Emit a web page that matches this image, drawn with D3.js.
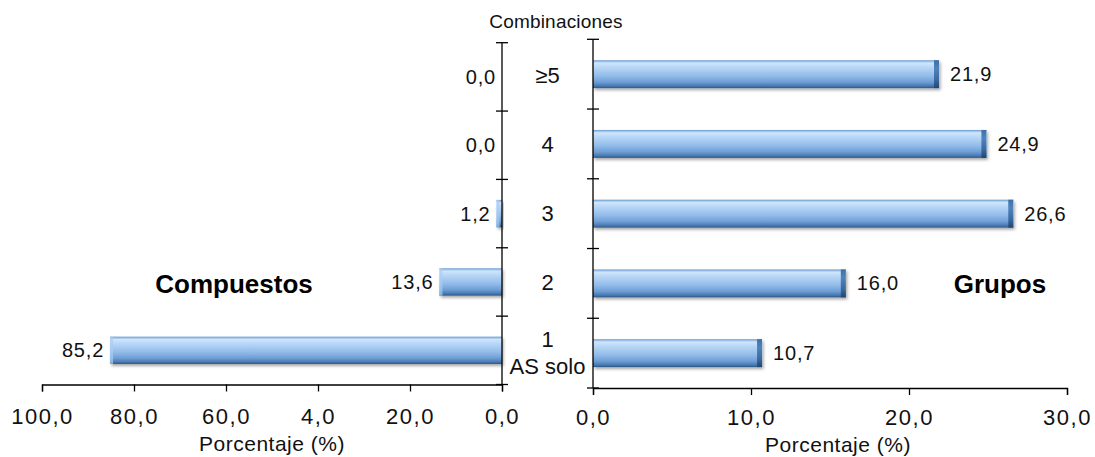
<!DOCTYPE html>
<html><head><meta charset="utf-8">
<script src="https://cdn.jsdelivr.net/npm/d3@7"></script>
<style>
html,body{margin:0;padding:0;background:#fff;}
svg{display:block;font-family:"Liberation Sans",Arial,sans-serif;}
</style></head>
<body>
<svg id="c" width="1095" height="457"></svg>
<script>
const categories = ["≥5", "4", "3", "2", "1"];
const compuestos = [0.0, 0.0, 1.2, 13.6, 85.2];
const grupos = [21.9, 24.9, 26.6, 16.0, 10.7];
const leftTicks = [100, 80, 60, 40, 20, 0];
const leftTickLabels = ["100,0", "80,0", "60,0", "4,0", "20,0", "0,0"];
const rightTicks = [0, 10, 20, 30];
const rightTickLabels = ["0,0", "10,0", "20,0", "30,0"];
const fmt = v => v.toFixed(1).replace(".", ",");

const svg = d3.select("#c");
const defs = svg.append("defs");
const g = defs.append("linearGradient").attr("id","bev").attr("x1",0).attr("y1",0).attr("x2",0).attr("y2",1);
[[0,"#6b9bd3"],[0.1,"#cfe6fc"],[0.22,"#bcdaf8"],[0.55,"#94bdea"],[0.78,"#6f9fd6"],[0.92,"#4a7bb3"],[1,"#2c5786"]]
  .forEach(([o,c])=>g.append("stop").attr("offset",o).attr("stop-color",c));
const gd = defs.append("linearGradient").attr("id","bevEnd").attr("x1",0).attr("y1",0).attr("x2",0).attr("y2",1);
[[0,"#3f6fa6"],[0.3,"#4f82bd"],[0.7,"#3a6aa0"],[1,"#1f4670"]]
  .forEach(([o,c])=>gd.append("stop").attr("offset",o).attr("stop-color",c));
const f = defs.append("filter").attr("id","sh").attr("x","-10%").attr("y","-30%").attr("width","130%").attr("height","180%");
f.append("feDropShadow").attr("dx",1.5).attr("dy",2).attr("stdDeviation",1.5).attr("flood-color","#000").attr("flood-opacity",0.35);

// scales
const xL = d3.scaleLinear().domain([100,0]).range([42,502]);
const yL = d3.scaleBand().domain(categories).range([42.7,384.5]).padding(0);
const xR = d3.scaleLinear().domain([0,30]).range([593,1067]);
const yR = d3.scaleBand().domain(categories).range([39.3,388]).padding(0);
const barFrac = 0.4;

// left bars
const lb = svg.append("g");
categories.forEach((c,i)=>{
  const v = compuestos[i];
  const h = yL.bandwidth()*barFrac;
  const y = yL(c)+yL.bandwidth()/2 - h/2;
  const x0 = xL(v), w = xL(0)-xL(v);
  if (w>0){
    lb.append("rect").attr("x",x0).attr("y",y).attr("width",w).attr("height",h).attr("fill","url(#bev)").attr("filter","url(#sh)");
    lb.append("rect").attr("x",x0).attr("y",y).attr("width",Math.min(3,w)).attr("height",h).attr("fill","#a9cdf3").attr("opacity",0.7);
  }
  lb.append("text").attr("x",x0-6).attr("y",yL(c)+yL.bandwidth()/2).attr("dy","0.35em")
    .attr("text-anchor","end").attr("font-size",20).attr("letter-spacing","0.8px").attr("fill","#111").text(fmt(v));
});

// right bars
const rb = svg.append("g");
categories.forEach((c,i)=>{
  const v = grupos[i];
  const h = yR.bandwidth()*barFrac;
  const y = yR(c)+yR.bandwidth()/2 - h/2;
  const x1 = xR(v), w = x1-xR(0);
  rb.append("rect").attr("x",xR(0)).attr("y",y).attr("width",w).attr("height",h).attr("fill","url(#bev)").attr("filter","url(#sh)");
  rb.append("rect").attr("x",x1-5).attr("y",y).attr("width",5).attr("height",h).attr("fill","url(#bevEnd)");
  rb.append("text").attr("x",x1+11).attr("y",yR(c)+yR.bandwidth()/2).attr("dy","0.35em")
    .attr("text-anchor","start").attr("font-size",20).attr("letter-spacing","0.8px").attr("fill","#111").text(fmt(v));
});

function styleAxis(sel){
  sel.selectAll("path,line").attr("stroke","#000").attr("stroke-width",1.3);
}
// left x axis
const axL = svg.append("g").attr("transform","translate(0,384.5)")
  .call(d3.axisBottom(xL).tickValues(leftTicks).tickFormat((d,i)=>leftTickLabels[i]).tickSizeInner(7).tickSizeOuter(7).tickPadding(17));
styleAxis(axL);
axL.selectAll("text").attr("font-size",22).attr("fill","#111").attr("letter-spacing","1.5px").attr("font-family","'Liberation Sans',Arial,sans-serif");
// right x axis
const axR = svg.append("g").attr("transform","translate(0,388)")
  .call(d3.axisBottom(xR).tickValues(rightTicks).tickFormat((d,i)=>rightTickLabels[i]).tickSizeInner(7).tickSizeOuter(7).tickPadding(14));
styleAxis(axR);
axR.selectAll("text").attr("font-size",22).attr("fill","#111").attr("letter-spacing","1.5px").attr("font-family","'Liberation Sans',Arial,sans-serif");

// vertical axes with crossing ticks
function vAxis(x, y){
  const ga = svg.append("g");
  const r = y.range();
  ga.append("line").attr("x1",x).attr("x2",x).attr("y1",r[0]).attr("y2",r[1]).attr("stroke","#000").attr("stroke-width",1.3);
  const bounds = y.domain().map(d=>y(d)).concat([r[1]]);
  bounds.forEach(b=>ga.append("line").attr("x1",x-6).attr("x2",x+6).attr("y1",b).attr("y2",b).attr("stroke","#000").attr("stroke-width",1.3));
}
vAxis(502, yL);
vAxis(593, yR);

// category labels in the middle
const mid = (502+593)/2;
categories.forEach((c,i)=>{
  const cy = (yL(c)+yL.bandwidth()/2 + yR(c)+yR.bandwidth()/2)/2;
  if (c==="1"){
    svg.append("text").attr("x",mid).attr("y",cy-12).attr("dy","0.35em").attr("text-anchor","middle").attr("font-size",22).attr("fill","#111").text(c);
    svg.append("text").attr("x",mid).attr("y",cy+15).attr("dy","0.35em").attr("text-anchor","middle").attr("font-size",22).attr("fill","#111").text("AS solo");
  } else {
    svg.append("text").attr("x",mid).attr("y",cy).attr("dy","0.35em").attr("text-anchor","middle").attr("font-size",22).attr("fill","#111").text(c);
  }
});

svg.append("text").attr("x",556).attr("y",28).attr("text-anchor","middle").attr("font-size",19).attr("letter-spacing","0.2px").attr("fill","#111").text("Combinaciones");
svg.append("text").attr("x",272).attr("y",451).attr("text-anchor","middle").attr("font-size",21).attr("letter-spacing","0.5px").attr("fill","#111").text("Porcentaje (%)");
svg.append("text").attr("x",838).attr("y",452).attr("text-anchor","middle").attr("font-size",21).attr("letter-spacing","0.5px").attr("fill","#111").text("Porcentaje (%)");
svg.append("text").attr("x",234).attr("y",284).attr("dy","0.35em").attr("text-anchor","middle").attr("font-size",26).attr("font-weight","bold").attr("fill","#000").text("Compuestos");
svg.append("text").attr("x",1000).attr("y",284).attr("dy","0.35em").attr("text-anchor","middle").attr("font-size",26).attr("font-weight","bold").attr("fill","#000").text("Grupos");
</script>
</body></html>
